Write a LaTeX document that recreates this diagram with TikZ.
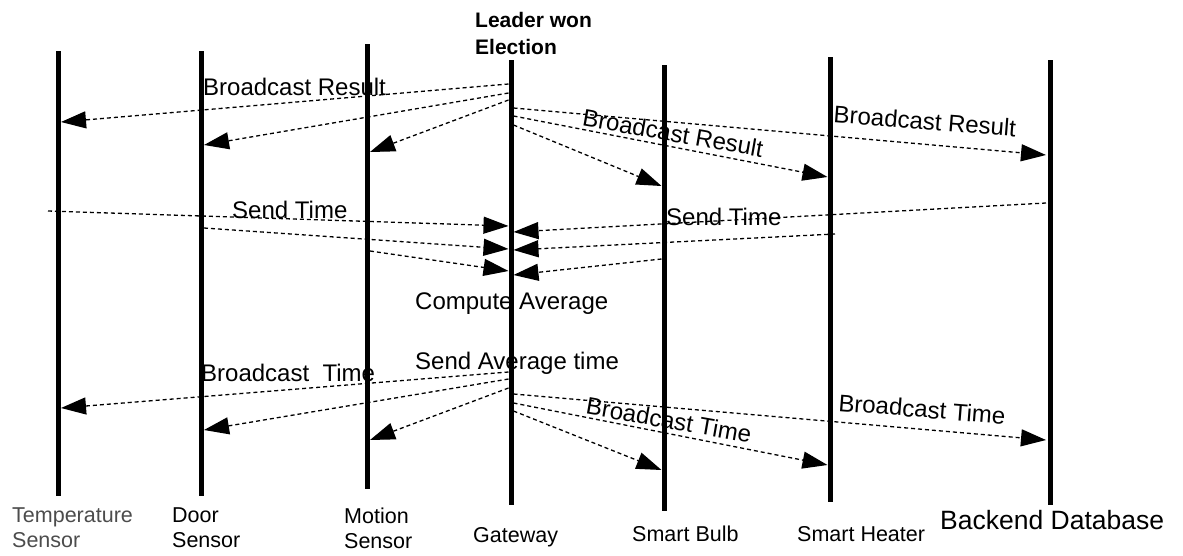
\documentclass[tikz,border=0pt]{standalone}
\usepackage{fontspec}
\setmainfont{Liberation Sans}
\usetikzlibrary{arrows.meta,calc}
\begin{document}
\begin{tikzpicture}[x=1pt,y=-1pt,
  life/.style={line width=5pt},
  msg/.style={dash pattern=on 4pt off 3pt, line width=1.3pt, -{Triangle[length=25pt,width=17pt]}},
  lbl/.style={font=\fontsize{24}{28}\selectfont, inner sep=0pt, anchor=base west},
  who/.style={font=\fontsize{21.5}{25}\selectfont, inner sep=0pt, anchor=base west},
]
\useasboundingbox (0,0) rectangle (1183,555);
% lifeline positions
\coordinate (temp) at (58,0);
\coordinate (door) at (201,0);
\coordinate (motion) at (367,0);
\coordinate (gw) at (511,0);
\coordinate (bulb) at (664,0);
\coordinate (heater) at (830,0);
\coordinate (db) at (1050,0);
% edges
\coordinate (tempR) at (61,0);
\coordinate (doorR) at (204,0);
\coordinate (motionR) at (370,0);
\coordinate (gwL) at (508.5,0);
\coordinate (gwR) at (513.5,0);
\coordinate (bulbL) at (661.5,0);
\coordinate (heaterL) at (827.5,0);
\coordinate (heaterR) at (835,0);
\coordinate (dbL) at (1046,0);
\coordinate (farL) at (48,0);
% lifelines
\draw[life] (temp |- 0,51) -- (temp |- 0,496);
\draw[life] (door |- 0,51) -- (door |- 0,496);
\draw[life] (motion |- 0,44) -- (motion |- 0,489);
\draw[life] (gw |- 0,60) -- (gw |- 0,505);
\draw[life] (bulb |- 0,65) -- (bulb |- 0,511);
\draw[life] (heater |- 0,57) -- (heater |- 0,502);
\draw[life] (db |- 0,60) -- (db |- 0,505);
% broadcast result
\draw[msg] (gwL |- 0,84) -- (tempR |- 0,122);
\draw[msg] (gwL |- 0,93) -- (doorR |- 0,145);
\draw[msg] (gwL |- 0,100) -- (motionR |- 0,152);
\draw[msg] (gwR |- 0,108) -- (dbL |- 0,155);
\draw[msg] (gwR |- 0,116) -- (heaterL |- 0,177);
\draw[msg] (gwR |- 0,125) -- (bulbL |- 0,186);
% send time
\draw[msg] (farL |- 0,211) -- (gwL |- 0,226);
\draw[msg] (doorR |- 0,228) -- (gwL |- 0,249);
\draw[msg] (motionR |- 0,251) -- (gwL |- 0,271);
\draw[msg] (dbL |- 0,203) -- (gwR |- 0,232);
\draw[msg] (heaterR |- 0,234) -- (gwR |- 0,250);
\draw[msg] (bulbL |- 0,259) -- (gwR |- 0,275);
% broadcast time
\draw[msg] (gwL |- 0,372) -- (tempR |- 0,408);
\draw[msg] (gwL |- 0,379) -- (doorR |- 0,430);
\draw[msg] (gwL |- 0,388) -- (motionR |- 0,440);
\draw[msg] (gwR |- 0,394) -- (dbL |- 0,440);
\draw[msg] (gwR |- 0,403) -- (heaterL |- 0,465);
\draw[msg] (gwR |- 0,411) -- (bulbL |- 0,470);
% message labels
\node[lbl] (brL) at (203,95) {Broadcast Result};
\node[lbl, anchor=center, rotate=-10] (brM) at (673,133) {Broadcast Result};
\node[lbl, anchor=center, rotate=-4.5] (brR) at (925,121) {Broadcast Result};
\node[lbl] (stL) at (232,218) {Send Time};
\node[lbl] (stR) at (666,225) {Send Time};
\node[lbl] (avg) at (415,309) {Compute Average};
\node[lbl] (sat) at (415,369) {Send Average time};
\node[lbl] (btL) at (201,381) {Broadcast\ \ Time};
\node[lbl, anchor=center, rotate=-10] (btM) at (669,420) {Broadcast Time};
\node[lbl, anchor=center, rotate=-4.5] (btR) at (922,409) {Broadcast Time};
% leader
\node[lbl, font=\fontsize{21}{25}\selectfont\bfseries] (lead1) at (475,27) {Leader won};
\node[lbl, font=\fontsize{21}{25}\selectfont\bfseries] (lead2) at (475,54) {Election};
% participant labels
\node[who, text=black!70] (tempA) at (12,522) {Temperature};
\node[who, text=black!70] (tempB) at (12,547) {Sensor};
\node[who] (doorA) at (172,522) {Door};
\node[who] (doorB) at (172,547) {Sensor};
\node[who] (motA) at (344,523) {Motion};
\node[who] (motB) at (344,548) {Sensor};
\node[who] (gwA) at (473,542) {Gateway};
\node[who] (bulbA) at (632,541) {Smart Bulb};
\node[who] (heatA) at (797,541) {Smart Heater};
\node[who, font=\fontsize{26.5}{30}\selectfont] (dbA) at (940,529) {Backend Database};
\end{tikzpicture}
\end{document}
